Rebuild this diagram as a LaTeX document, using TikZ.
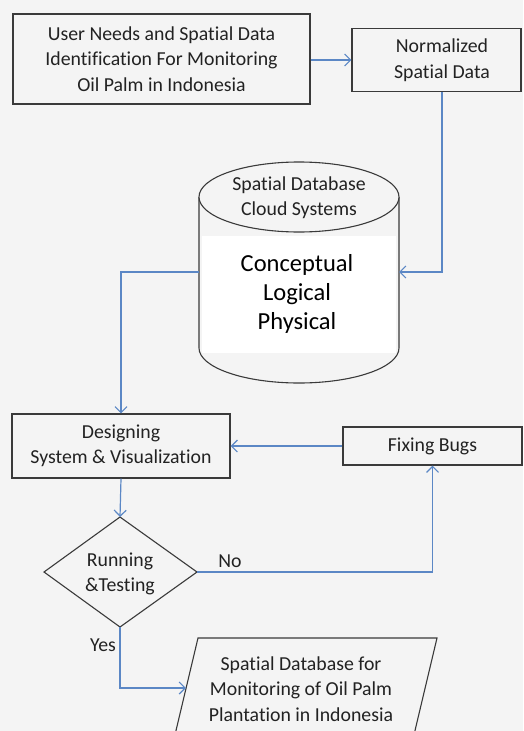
\documentclass[tikz,border=0pt]{standalone}
\usepackage{fontspec}
\setmainfont{Carlito}[Ligatures=NoCommon]
\usetikzlibrary{arrows.meta,calc}
\definecolor{bg}{HTML}{F4F4F4}
\definecolor{flow}{HTML}{5B87C5}
\definecolor{edge}{HTML}{3A3A3A}
\definecolor{ink}{HTML}{222222}
\tikzset{
  box/.style={draw=edge, line width=1.1pt, fill=bg, inner sep=0pt, align=center,
    text=ink, font=\fontsize{19.8}{25.5}\selectfont},
  lbl/.style={inner sep=0pt, align=center, text=ink, font=\fontsize{19.8}{25.5}\selectfont},
  biglbl/.style={inner sep=0pt, align=center, text=black, font=\fontsize{24.5}{29}\selectfont},
  outline/.style={draw=edge, line width=1.1pt},
  flowline/.style={draw=flow, line width=1.2pt},
  flowarrow/.style={flowline, -{Straight Barb[length=6pt,width=12pt,line width=1.2pt]}}
}
\begin{document}
\begin{tikzpicture}[x=1pt,y=-1pt]
  \useasboundingbox (0,0) rectangle (523,731);
  \clip (0,0) rectangle (523,731);
  \fill[bg] (0,0) rectangle (523,731);

  % top row
  \node[box, minimum width=297, minimum height=90] (needs) at (161.5,59)
    {User Needs and Spatial Data\\Identification For Monitoring\\Oil Palm in Indonesia};
  \node[box, minimum width=169, minimum height=63] (norm) at (436.5,60) {};
  \node[lbl] (normtext) at (442,60) {Normalized\\Spatial Data};

  % database cylinder
  \draw[outline, fill=bg] (199,197) -- (199,348) arc[start angle=180, end angle=0,
    x radius=100, y radius=35] -- (399,197);
  \draw[outline, fill=bg] (299,197) ellipse[x radius=100, y radius=35];
  \node[fill=white, minimum width=194, minimum height=117, inner sep=0pt] (dbpanel) at (299,294.5) {};
  \node[biglbl] (db) at (297,294) {Conceptual\\Logical\\Physical};
  \node[lbl] (dbtop) at (299,197.5) {Spatial Database\\Cloud Systems};
  \coordinate (dbE) at (399,272);
  \coordinate (dbW) at (199,272);

  % design / fix loop
  \node[box, minimum width=218, minimum height=64] (design) at (121,446)
    {Designing\\System \& Visualization};
  \node[box, minimum width=179, minimum height=38] (fix) at (432.5,446) {Fixing Bugs};

  % decision diamond
  \coordinate (testN) at (120,517);
  \coordinate (testE) at (197,572);
  \coordinate (testS) at (120,627);
  \coordinate (testW) at (44,572);
  \draw[outline, fill=bg] (testN) -- (testE) -- (testS) -- (testW) -- cycle;
  \node[lbl] (test) at (120,574) {Running\\\&Testing};

  % output parallelogram
  \draw[outline, fill=bg] (198,638) -- (437,638) -- (408,760) -- (169,760) -- cycle;
  \node[lbl] (out) at (301,689)
    {Spatial Database for\\Monitoring of Oil Palm\\Plantation in Indonesia};
  \coordinate (outW) at (186,688);

  % connectors
  \draw[flowarrow] (needs.east |- norm.west) -- (norm.west);
  \draw[flowarrow] (normtext |- norm.south) |- (dbE);
  \draw[flowarrow] (dbW) -| (design.north);
  \draw[flowarrow] (fix.west) -- (design.east);
  \draw[flowarrow] (design.south) -- (testN);
  \draw[flowarrow] (testE) -| (fix.south);
  \draw[flowarrow] (testS) |- (outW);

  \node[lbl] (no) at (230,561) {No};
  \node[lbl] (yes) at (103,645) {Yes};
\end{tikzpicture}
\end{document}
